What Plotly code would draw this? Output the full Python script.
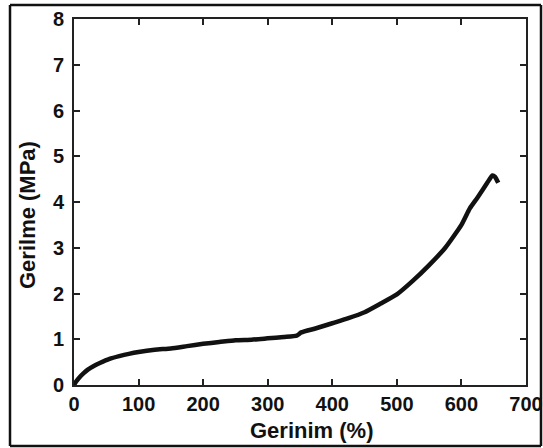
import plotly.graph_objects as go

strain = [0, 3, 8, 15, 22, 30, 40, 55, 70, 85, 100, 125, 150, 175, 200, 225, 250, 275, 300, 325, 345, 352,
          375, 400, 425, 450, 475, 500, 525, 550, 575, 600, 610, 613, 625, 640, 648, 652, 657]
stress = [0, 0.07, 0.16, 0.26, 0.34, 0.41, 0.48, 0.57, 0.63, 0.68, 0.72, 0.77, 0.80, 0.85, 0.90, 0.94, 0.98, 0.99, 1.02, 1.05, 1.08, 1.15,
          1.24, 1.35, 1.46, 1.59, 1.78, 1.98, 2.28, 2.62, 3.00, 3.50, 3.78, 3.86, 4.10, 4.42, 4.58, 4.55, 4.42]

x_ticks = [0, 100, 200, 300, 400, 500, 600, 700]
y_ticks = [0, 1, 2, 3, 4, 5, 6, 7, 8]

fig = go.Figure()
fig.add_trace(go.Scatter(x=strain, y=stress, mode="lines",
                         line=dict(color="#111111", width=4.5, shape="spline", smoothing=0.5),
                         showlegend=False))

W, H = 543, 448
L, R, T, B = 74, 17, 19, 63
pw, ph = W - L - R, H - T - B

axis_common = dict(showline=True, linecolor="#222222", linewidth=2, mirror="ticks",
                   ticks="inside", ticklen=6, tickwidth=2, tickcolor="#222222",
                   showgrid=False, zeroline=False, automargin=False,
                   tickfont=dict(family="Liberation Sans, Arial", size=20, color="#111111"))

fig.update_layout(
    width=W, height=H,
    margin=dict(l=L, r=R, t=T, b=B, autoexpand=False),
    paper_bgcolor="white", plot_bgcolor="white",
    font=dict(family="Liberation Sans, Arial", color="#111111"),
    xaxis=dict(range=[0, 700], tickvals=x_ticks, ticktext=[f"<b>{v}</b>" for v in x_ticks],
               **axis_common),
    yaxis=dict(range=[0, 8], tickvals=y_ticks, ticktext=[f"<b>{v}</b>" for v in y_ticks],
               ticklabelstandoff=4, **axis_common),
)

fig.add_annotation(text="<b>Gerinim (%)</b>", xref="paper", yref="paper",
                   x=(311 - L) / pw, y=-(430 - (H - B)) / ph, showarrow=False,
                   xanchor="center", yanchor="middle",
                   font=dict(family="Liberation Sans, Arial", size=22, color="#111111"))
fig.add_annotation(text="<b>Gerilme (MPa)</b>", xref="paper", yref="paper",
                   x=-(L - 28) / pw, y=(385 - 215) / ph, showarrow=False, textangle=-90,
                   xanchor="center", yanchor="middle",
                   font=dict(family="Liberation Sans, Arial", size=22, color="#111111"))

# outer frame around whole figure, drawn as four edges
fx0, fx1 = (10 - L) / pw, (541 - L) / pw
fy0, fy1 = -(446 - (H - B)) / ph, 1 + (T - 5) / ph
frame = dict(type="line", xref="paper", yref="paper", line=dict(color="#111111", width=2.5), layer="above")
fig.add_shape(x0=fx0, x1=fx1, y0=fy1, y1=fy1, **frame)
fig.add_shape(x0=fx0, x1=fx1, y0=fy0, y1=fy0, **frame)
fig.add_shape(x0=fx0, x1=fx0, y0=fy0, y1=fy1, **frame)
fig.add_shape(x0=fx1, x1=fx1, y0=fy0, y1=fy1, **frame)

post = (
    "document.documentElement.style.margin='0';"
    "document.documentElement.style.overflow='hidden';"
    "document.body.style.margin='0';"
    "document.body.style.overflow='hidden';"
    "document.body.style.height='448px';"
    "var d=document.querySelector('.plotly-graph-div');"
    "if(d){d.style.display='block';d.parentNode.style.display='block';}"
    "window.scrollTo(0,0);"
    "setTimeout(function(){window.scrollTo(0,0);},50);"
)

fig.write_html("out.html", config={"displayModeBar": False}, post_script=post)
